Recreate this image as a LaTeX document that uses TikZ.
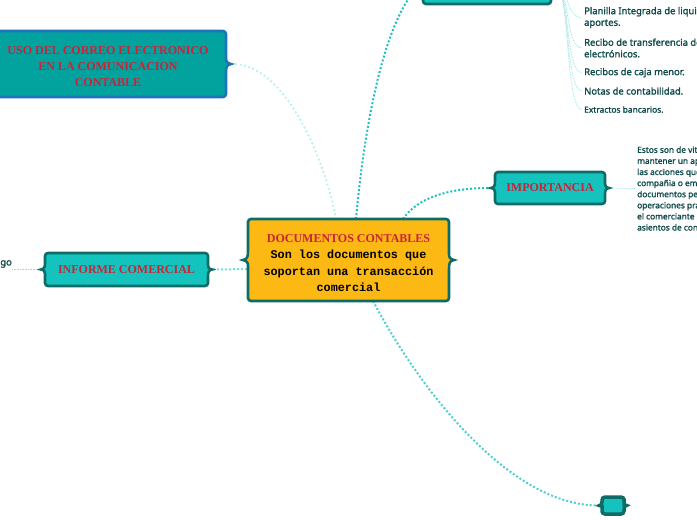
\documentclass[tikz,border=0pt]{standalone}
\usepackage{fontspec}
\setmainfont{Liberation Serif}
\setmonofont{Liberation Mono}
\newfontfamily\notob{Noto Sans}[FakeBold=1.6]
\usetikzlibrary{calc,backgrounds}
\definecolor{orangefill}{HTML}{FDB913}
\definecolor{tealdark}{HTML}{0E6B66}
\definecolor{tealfill}{HTML}{14C3BD}
\definecolor{usofill}{HTML}{02A39E}
\definecolor{usoborder}{HTML}{1E74BA}
\definecolor{redtext}{HTML}{CC2238}
\definecolor{itemcol}{HTML}{0F4A4A}
\definecolor{connA}{HTML}{22BFC0}
\definecolor{connB}{HTML}{B4F0F0}
\definecolor{connC}{HTML}{4FD0D0}
\definecolor{connD}{HTML}{7EDCDC}
\definecolor{thincol}{HTML}{8FE2E2}
\newcommand\braceoutline[4]{%
\filldraw[#2] [rounded corners=3pt] (#1.north west) -- (#1.north east) -- ([yshift=#3]#1.east)
 [sharp corners] .. controls ([yshift=0.3*#3]#1.east) and ([xshift=0.2*#4,yshift=0.08*#3]#1.east) .. ([xshift=#4]#1.east)
 .. controls ([xshift=0.2*#4,yshift=-0.08*#3]#1.east) and ([yshift=-0.3*#3]#1.east) .. ([yshift=-#3]#1.east)
 [rounded corners=3pt] -- (#1.south east) -- (#1.south west) -- ([yshift=-#3]#1.west)
 [sharp corners] .. controls ([yshift=-0.3*#3]#1.west) and ([xshift=-0.2*#4,yshift=-0.08*#3]#1.west) .. ([xshift=-#4]#1.west)
 .. controls ([xshift=-0.2*#4,yshift=0.08*#3]#1.west) and ([yshift=0.3*#3]#1.west) .. ([yshift=#3]#1.west)
 [rounded corners=3pt] -- cycle;}
\begin{document}
\begin{tikzpicture}[x=1pt,y=-1pt,
  boxnode/.style={inner sep=0pt, outer sep=0pt, align=center, text=redtext,
    font=\rmfamily\bfseries\fontsize{12}{16.4}\selectfont},
  tealbox/.style={fill=tealfill, draw=tealdark, line width=2.6pt},
  itemnode/.style={anchor=west, inner sep=0pt, align=left, text=itemcol,
    font=\notob\fontsize{9.4}{11.6}\selectfont},
  descnode/.style={anchor=west, inner sep=0pt, align=left, text=itemcol,
    font=\notob\fontsize{8.3}{11.1}\selectfont},
  conn/.style={line width=2pt, dash pattern=on 2pt off 2pt},
  lightconn/.style={line width=1.8pt, dash pattern=on 1.8pt off 2.6pt, color=connB},
  thinconn/.style={line width=0.7pt, dash pattern=on 0.8pt off 0.8pt, color=thincol}]
\useasboundingbox (0,0) rectangle (697,520);
\clip (0,0) rectangle (697,520);

% nodes (text)
\node[boxnode, minimum width=201pt, minimum height=82pt, text=black,
  font=\fontsize{11.8}{16.6}\selectfont] (central) at (348.5,260)
  {\rule{0pt}{14pt}{\color{redtext}\rmfamily\bfseries\fontsize{12}{16.6}\selectfont DOCUMENTOS CONTABLES}\\
   \ttfamily\bfseries Son los documentos que\\
   \ttfamily\bfseries soportan una transacción\\
   \ttfamily\bfseries comercial};
\node[boxnode, minimum width=236pt, minimum height=66pt] (uso) at (108,64)
  {\rule{0pt}{13pt}USO DEL CORREO ELECTRONICO\\EN LA COMUNICACION\\CONTABLE};
\node[boxnode, minimum width=110pt, minimum height=32pt] (imp) at (550,188)
  {IMPORTANCIA};
\node[boxnode, minimum width=163pt, minimum height=33pt] (inf) at (126.5,269.5)
  {INFORME COMERCIAL};
\node[boxnode, minimum width=128pt, minimum height=34pt] (top) at (487,-13) {};
\node[boxnode, minimum width=22pt, minimum height=17pt] (bot) at (613,505.5) {};

\node[itemnode] (i1) at (584,17.5) {Planilla Integrada de liquidación de\\aportes.};
\node[itemnode] (i2) at (584,48) {Recibo de transferencia de fondos\\electrónicos.};
\node[itemnode] (i3) at (584,72.7) {Recibos de caja menor.};
\node[itemnode] (i4) at (584,91) {Notas de contabilidad.};
\node[itemnode, font=\notob\fontsize{8.4}{10}\selectfont] (i5) at (584,109.5) {Extractos bancarios.};

\node[descnode] (desc) at (637,188.5) {Estos son de vital\\
mantener un apropiado\\
las acciones que\\
compañia o empresa\\
documentos permiten\\
operaciones practicadas\\
el comerciante\\
asientos de contabilidad};
\node[anchor=east, inner sep=0pt, text=itemcol, font=\notob\fontsize{9.4}{11}\selectfont] (lefttext) at (12,264) {go};

\begin{pgfonlayer}{background}
\begin{scope}
\clip (0,0) rectangle (697,520);
% connectors
\draw[lightconn] ([xshift=5pt]uso.east) .. controls (285,62) and (325,160) .. (central.north -| 336,0);
\draw[conn, color=connA] (central.north -| 356,0) .. controls (365,120) and (385,20) .. ([xshift=-5pt]top.west);
\draw[conn, color=connA] (central.north -| 403,0) .. controls (418,197) and (450,188) .. ([xshift=-5pt]imp.west);
\draw[conn, color=connD] ([xshift=5pt]inf.east) -- (central.west |- 0,269);
\draw[conn, color=connC] (central.south -| 373,0) .. controls (420,390) and (510,506) .. ([xshift=-3pt]bot.west);
\draw[thinconn] ([xshift=5pt]imp.east) -- ([xshift=-2pt]desc.west);
\draw[thinconn] ([xshift=-5pt]inf.west) -- (lefttext.east |- inf.west);
\foreach \n in {i1,i2,i3,i4,i5}{
  \draw[thinconn] ([xshift=5pt]top.east) .. controls (570,-13) and (565,0 |- \n.west) .. ([xshift=-2pt]\n.west);
}
% outlines
\braceoutline{central}{fill=orangefill, draw=tealdark, line width=2.6pt}{9pt}{5pt}
\braceoutline{uso}{fill=usofill, draw=usoborder, line width=2.6pt}{9pt}{5pt}
\braceoutline{imp}{tealbox}{7pt}{4pt}
\braceoutline{inf}{tealbox}{7pt}{4pt}
\braceoutline{top}{tealbox}{7pt}{4pt}
\braceoutline{bot}{fill=tealfill, draw=tealdark, line width=3.5pt}{4pt}{2.5pt}
\end{scope}
\end{pgfonlayer}
\end{tikzpicture}
\end{document}
